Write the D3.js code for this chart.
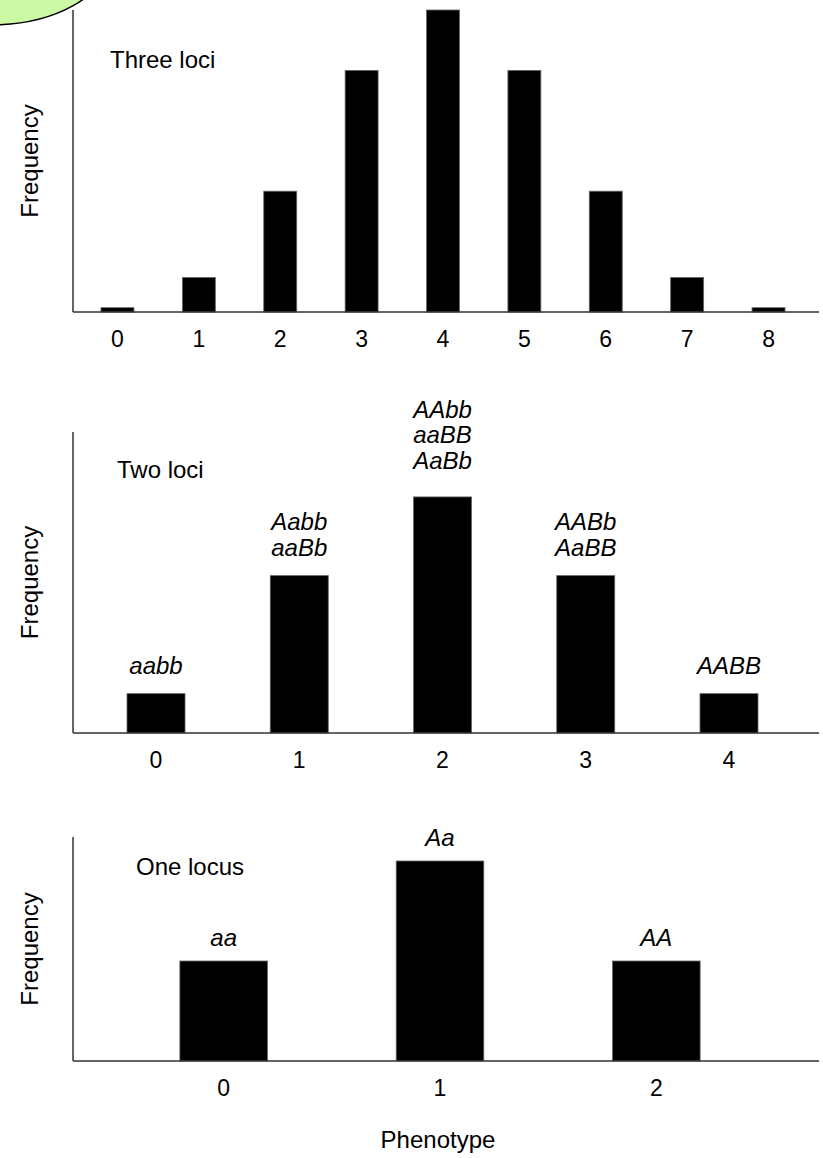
<!DOCTYPE html>
<html>
<head>
<meta charset="utf-8">
<script src="https://cdn.jsdelivr.net/npm/d3@7"></script>
<style>
  body { margin: 0; background: #fff; }
  svg { display: block; font-family: "Liberation Sans", Arial, sans-serif; }
</style>
</head>
<body>
<svg id="chart"></svg>
<script>
// data
const threeCats = ['0', '1', '2', '3', '4', '5', '6', '7', '8'];
const threeVals = [1, 8, 28, 56, 70, 56, 28, 8, 1];

const twoCats = ['0', '1', '2', '3', '4'];
const twoVals = [1, 4, 6, 4, 1];
const twoGenos = [['aabb'], ['Aabb', 'aaBb'], ['AAbb', 'aaBB', 'AaBb'], ['AABb', 'AaBB'], ['AABB']];

const oneCats = ['0', '1', '2'];
const oneVals = [1, 2, 1];
const oneGenos = [['aa'], ['Aa'], ['AA']];

const W = 823, H = 1158;
const axisX = 73, axisEnd = 819;

const svg = d3.select('#chart')
  .attr('width', W)
  .attr('height', H);

// green blob cut off in the corner
svg.append('ellipse')
  .attr('cx', -10).attr('cy', -40)
  .attr('rx', 117).attr('ry', 65)
  .attr('fill', '#ccf9a6')
  .attr('stroke', '#000')
  .attr('stroke-width', 1.5);

const panels = [
  { title: 'Three loci', titleX: 110, titleY: 68, cats: threeCats, vals: threeVals, genos: null,
    top: 10, base: 312, yMax: 70, right: 813, pOuter: 0.344, gap: 0, lineH: 25 },
  { title: 'Two loci', titleX: 117, titleY: 478, cats: twoCats, vals: twoVals, genos: twoGenos,
    top: 432, base: 733, yMax: 7.65, right: 812, pOuter: 0.377, gap: 20, lineH: 25.5 },
  { title: 'One locus', titleX: 136, titleY: 875, cats: oneCats, vals: oneVals, genos: oneGenos,
    top: 837, base: 1061, yMax: 2.24, right: 807, pOuter: 0.494, gap: 15, lineH: 25 }
];

panels.forEach(p => {
  const g = svg.append('g');

  const x = d3.scaleBand()
    .domain(p.cats)
    .range([axisX, p.right])
    .paddingInner(0.595)
    .paddingOuter(p.pOuter);

  const y = d3.scaleLinear()
    .domain([0, p.yMax])
    .range([p.base, p.top]);

  // bars
  g.selectAll('.bar')
    .data(p.vals)
    .enter()
    .append('rect')
    .attr('class', 'bar')
    .attr('x', (v, i) => x(p.cats[i]))
    .attr('y', v => y(v))
    .attr('width', x.bandwidth())
    .attr('height', v => p.base - y(v))
    .attr('fill', '#000')
    .attr('stroke', '#666')
    .attr('stroke-width', 0.8);

  // axes lines
  g.append('line')
    .attr('x1', axisX).attr('x2', axisX)
    .attr('y1', p.top).attr('y2', p.base)
    .attr('stroke', '#333').attr('stroke-width', 1.5);
  g.append('line')
    .attr('x1', axisX).attr('x2', axisEnd)
    .attr('y1', p.base).attr('y2', p.base)
    .attr('stroke', '#333').attr('stroke-width', 1.5);

  // tick labels
  const xAxis = d3.axisBottom(x).tickSize(0).tickPadding(19);
  const ax = g.append('g')
    .attr('transform', `translate(0, ${p.base})`)
    .call(xAxis);
  ax.select('.domain').remove();
  ax.selectAll('text')
    .attr('font-size', 23)
    .attr('font-family', '"Liberation Sans", Arial, sans-serif')
    .attr('fill', '#000');

  // panel title
  g.append('text')
    .attr('x', p.titleX).attr('y', p.titleY)
    .attr('font-size', 24)
    .attr('fill', '#000')
    .text(p.title);

  // y label
  g.append('text')
    .attr('transform', `translate(38, ${(p.top + p.base) / 2}) rotate(-90)`)
    .attr('text-anchor', 'middle')
    .attr('font-size', 24)
    .attr('fill', '#000')
    .text('Frequency');

  // genotype labels
  if (p.genos) {
    p.genos.forEach((lines, i) => {
      const cx = x(p.cats[i]) + x.bandwidth() / 2;
      const n = lines.length;
      const extra = n > 2 ? 8 : 0;
      lines.forEach((t, j) => {
        g.append('text')
          .attr('x', cx)
          .attr('y', y(p.vals[i]) - p.gap - extra - (n - 1 - j) * p.lineH)
          .attr('text-anchor', 'middle')
          .attr('font-size', 24)
          .attr('font-style', 'italic')
          .attr('fill', '#000')
          .text(t);
      });
    });
  }
});

svg.append('text')
  .attr('x', 438).attr('y', 1148)
  .attr('text-anchor', 'middle')
  .attr('font-size', 24)
  .attr('fill', '#000')
  .text('Phenotype');
</script>
</body>
</html>
